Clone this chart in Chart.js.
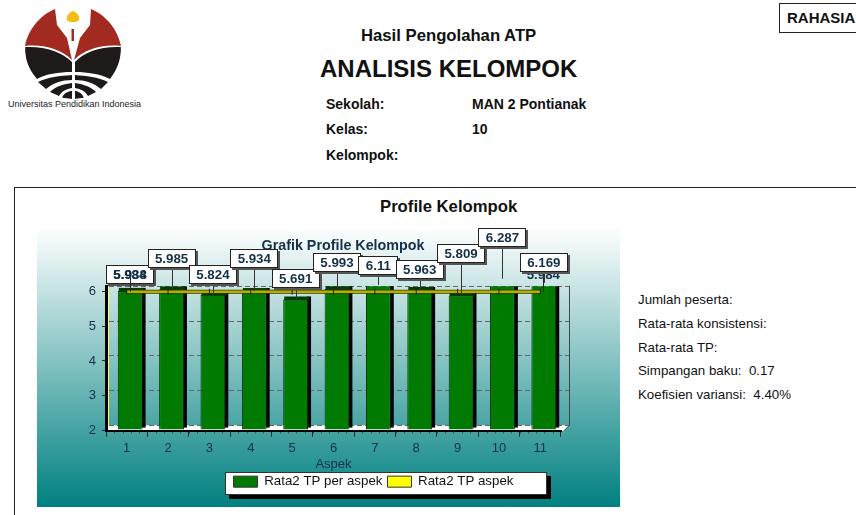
<!DOCTYPE html>
<html><head><meta charset="utf-8">
<script src="https://cdn.jsdelivr.net/npm/chart.js@4/dist/chart.umd.min.js"></script>
<style>
html,body{margin:0;padding:0;background:#fff;overflow:hidden}
body{width:856px;height:515px;position:relative;font-family:"Liberation Sans",Arial,sans-serif;color:#111}
.t{position:absolute;white-space:nowrap;line-height:1}
.b{font-weight:bold}
#frame{position:absolute;left:14px;top:187px;width:860px;height:340px;border:1px solid #222;box-sizing:border-box}
#grad{position:absolute;left:37px;top:227px;width:583px;height:280px;background:linear-gradient(#ffffff 0%,#008080 100%)}
#c{position:absolute;left:0;top:0}
#rah{position:absolute;left:779px;top:3px;width:90px;height:30px;border:1px solid #222;box-sizing:border-box;font:bold 15px "Liberation Sans";padding:5px 0 0 7px}
</style></head><body>
<svg style="position:absolute;left:0;top:0" width="160" height="100" viewBox="0 0 160 100">
<defs><clipPath id="lc"><circle cx="73" cy="51" r="48"/></clipPath></defs>
<path d="M55 9 L57 25 L67 38 L72 60 C62 50 45 44 25 46 C28 30 40 15 55 9Z" fill="#a32a20"/>
<path d="M91 9 L90 25 L80 38 L74 60 C84 50 101 44 121 46 C118 30 106 15 91 9Z" fill="#a32a20"/>
<path d="M73 11 C78 13 80 17 79 20 C77 23 69 23 67 20 C66 17 68 13 73 11Z" fill="#f3bd13"/>
<rect x="71.5" y="29" width="2.5" height="12" fill="#a32a20"/>
<g clip-path="url(#lc)">
<path d="M25 47 C45 46 62 52 72 62 L72 72 C58 72 46 74 37 79 C29 70 25 60 25 47Z" fill="#1d1a19"/>
<path d="M121 47 C101 46 84 52 75 62 L75 72 C88 72 100 74 110 79 C117 70 121 60 121 47Z" fill="#1d1a19"/>
<path d="M38 82 C48 77 60 76 72 75 L72 80 C62 80 53 83 46 89Z M108 82 C98 77 86 76 75 75 L75 80 C85 80 94 83 101 89Z" fill="#1d1a19"/>
<path d="M50 92 C56 86 64 84 72 83 L72 88 C66 89 62 91 59 96Z M96 92 C90 86 82 84 75 83 L75 88 C81 89 85 91 88 96Z" fill="#1d1a19"/>
<path d="M62 98 C64 93 68 91 72 91 L72 99Z M84 98 C82 93 78 91 75 91 L75 99Z" fill="#1d1a19"/>
</g></svg>
<div class="t" style="left:8px;top:100px;font-size:9px;font-family:'Liberation Sans';color:#222">Universitas Pendidikan Indonesia</div>
<div class="t b" style="left:361px;top:28px;font-size:16.7px">Hasil Pengolahan ATP</div>
<div class="t b" style="left:320px;top:57px;font-size:24px">ANALISIS KELOMPOK</div>
<div class="t b" style="left:326px;top:97px;font-size:14px">Sekolah:</div>
<div class="t b" style="left:472px;top:97px;font-size:14px">MAN 2 Pontianak</div>
<div class="t b" style="left:326px;top:122px;font-size:14px">Kelas:</div>
<div class="t b" style="left:472px;top:122px;font-size:14px">10</div>
<div class="t b" style="left:326px;top:148px;font-size:14px">Kelompok:</div>
<div id="rah">RAHASIA</div>
<div id="frame"></div>
<div class="t b" style="left:380px;top:199px;font-size:16.7px">Profile Kelompok</div>
<div id="grad"></div>
<div class="t" style="left:638px;top:293px;font-size:13.3px">Jumlah peserta:</div>
<div class="t" style="left:638px;top:317px;font-size:13.3px">Rata-rata konsistensi:</div>
<div class="t" style="left:638px;top:341px;font-size:13.3px">Rata-rata TP:</div>
<div class="t" style="left:638px;top:364px;font-size:13.3px">Simpangan baku:&nbsp; 0.17</div>
<div class="t" style="left:638px;top:388px;font-size:13.3px">Koefisien variansi:&nbsp; 4.40%</div>
<canvas id="c" width="856" height="515"></canvas>
<script>
const categories = ['1','2','3','4','5','6','7','8','9','10','11'];
const perAspek = [5.938,5.985,5.824,5.934,5.691,5.993,6.11,5.963,5.809,6.287,6.169];
const aspekMean = [5.984,5.984,5.984,5.984,5.984,5.984,5.984,5.984,5.984,5.984,5.984];
const yTicks = [2,3,4,5,6];
const labelLift = [6.6,21,10.5,23,11,17,10,11,32,32,11];

const FONT = '"Liberation Sans", Arial, sans-serif';
const BAR_DX = 3.5, BAR_DY = -2.5, WALL_DX = 3, WALL_DY = -5.5;

const scene = {
  id:'scene',
  afterLayout(chart){
    const lg = chart.legend, tb = chart.titleBlock;
    const dx = 373.5 - (lg.left + lg.right)/2;
    lg.left += dx; lg.right += dx;
    const dy = 470 - lg.top; lg.top += dy; lg.bottom += dy;
    const tx = 343 - (tb.left + tb.right)/2;
    tb.left += tx; tb.right += tx;
  },
  beforeDraw(chart){
    const {ctx, chartArea:a, scales:{x,y}} = chart;
    const b = y.getPixelForValue(2);
    ctx.save();
    // legend panel
    const lg = chart.legend;
    const lw = lg.lineWidths[0], cx = (lg.left+lg.right)/2;
    const l = Math.round(cx-lw/2-6), w = Math.round(lw+37), t = Math.round(lg.top+2), h = Math.round(lg.height-5);
    ctx.fillStyle='#000';ctx.fillRect(l+4,t+4,w,h);
    ctx.fillStyle='#fff';ctx.fillRect(l,t,w,h);
    ctx.strokeStyle='#333';ctx.strokeRect(l+.5,t+.5,w-1,h-1);
    // floor
    ctx.fillStyle = '#fff';
    ctx.beginPath();
    ctx.moveTo(a.left,b);ctx.lineTo(a.right+3,b);ctx.lineTo(a.right+8,b+WALL_DY);ctx.lineTo(a.left+WALL_DX,b+WALL_DY);ctx.closePath();ctx.fill();
    // left wall
    const t6 = y.getPixelForValue(6);
    ctx.fillStyle = '#ffff66';
    ctx.beginPath();
    ctx.moveTo(a.left,b);ctx.lineTo(a.left+WALL_DX,b+WALL_DY);ctx.lineTo(a.left+WALL_DX,t6+WALL_DY);ctx.lineTo(a.left,t6);ctx.closePath();ctx.fill();
    // back wall grid
    ctx.strokeStyle = '#666'; ctx.lineWidth = 1; ctx.setLineDash([5,3]);
    yTicks.forEach(v=>{
      const p = Math.round(y.getPixelForValue(v)+WALL_DY)+.5;
      ctx.beginPath();ctx.moveTo(a.left+WALL_DX,p);ctx.lineTo(a.right+8,p);ctx.stroke();
    });
    ctx.setLineDash([]);
    ctx.strokeStyle = '#444';
    ctx.beginPath();
    ctx.moveTo(a.right+8.5,t6+WALL_DY);ctx.lineTo(a.right+8.5,b+WALL_DY);ctx.lineTo(a.right+3,b);
    ctx.stroke();
    // minor x ticks
    ctx.strokeStyle = '#554';
    const step = x.getPixelForValue(1)-x.getPixelForValue(0);
    for(let i=0;i<categories.length*5;i++){
      const p = Math.round(a.left+step*i/5)+.5;
      ctx.beginPath();ctx.moveTo(p,b);ctx.lineTo(p,b+3);ctx.stroke();
    }
    ctx.restore();
  },
  beforeDatasetDraw(chart,args){
    const {ctx, chartArea:a} = chart;
    ctx.save();
    if(args.index===0){
      const els = args.meta.data;
      ctx.save();
      ctx.beginPath();ctx.rect(a.left,a.top,a.width+10,a.height);ctx.clip();
      els.forEach(e=>{
        const w = e.width, l = e.x-w/2+BAR_DX, r = l+w;
        ctx.fillStyle = '#050505';
        ctx.fillRect(r-1,e.y+BAR_DY-3,4,e.base-e.y+1);
        ctx.fillStyle = '#033d03';
        ctx.fillRect(l+1,e.y+BAR_DY-3,w,4);
      });
      ctx.restore();
      ctx.translate(BAR_DX,BAR_DY);
    } else {
      ctx.strokeStyle = '#3a3a00'; ctx.lineWidth = 4;
      const pts = args.meta.data;
      ctx.beginPath();ctx.moveTo(pts[0].x,pts[0].y);
      pts.forEach(p=>ctx.lineTo(p.x,p.y));ctx.stroke();
    }
  },
  afterDatasetDraw(chart){ chart.ctx.restore(); },
  afterDraw(chart){
    const {ctx, scales:{x,y}} = chart;
    ctx.save();
    ctx.font = 'bold 13.3px '+FONT;
    ctx.textAlign='center';ctx.textBaseline='middle';
    const plain = i=>{
      const px = x.getPixelForValue(i)+3;
      const py = y.getPixelForValue(aspekMean[i]);
      ctx.strokeStyle='#222';ctx.lineWidth=1;
      ctx.beginPath();ctx.moveTo(Math.round(px)+.5,py);ctx.lineTo(Math.round(px)+.5,py-14);ctx.stroke();
      ctx.fillStyle='#14304a';
      ctx.fillText(aspekMean[i].toString(),px,py-16);
    };
    plain(categories.length-1);
    perAspek.forEach((v,i)=>{
      const px = x.getPixelForValue(i)+BAR_DX;
      const py = y.getPixelForValue(v)+BAR_DY;
      const bottom = Math.round(py-labelLift[i]);
      const txt = String(v);
      const w = Math.round(ctx.measureText(txt).width)+15, h = 19;
      const lx = Math.round(px-w/2), ly = bottom-h;
      ctx.strokeStyle='#333';ctx.lineWidth=1;
      ctx.beginPath();ctx.moveTo(Math.round(px)+.5,bottom);ctx.lineTo(Math.round(px)+.5,py);ctx.stroke();
      ctx.fillStyle='#555';ctx.fillRect(lx+2,ly+2,w,h);
      ctx.fillStyle='#fff';ctx.fillRect(lx,ly,w,h);
      ctx.strokeStyle='#222';ctx.strokeRect(lx+.5,ly+.5,w-1,h-1);
      ctx.fillStyle='#14304a';
      ctx.fillText(txt,px,ly+h/2+.5);
    });
    plain(0);
    ctx.restore();
  }
};
new Chart(document.getElementById('c'),{
  data:{labels:categories,datasets:[
    {type:'bar',label:'Rata2 TP per aspek',data:perAspek,base:1.96,backgroundColor:'#007a00',borderColor:'#063006',borderWidth:1,
     barPercentage:.6,categoryPercentage:1,order:2,clip:{left:10,right:10,top:-2.5,bottom:10}},
    {type:'line',label:'Rata2 TP aspek',data:aspekMean,backgroundColor:'#ffff00',borderColor:'#b0b000',borderWidth:2.5,
     pointStyle:'line',pointRotation:90,pointRadius:3,pointBorderColor:'#222',pointBorderWidth:1,tension:0,clip:false,order:1}
  ]},
  options:{
    responsive:false,animation:false,
    layout:{padding:{left:80,right:295,top:237,bottom:14}},
    plugins:{
      title:{display:true,text:'Grafik Profile Kelompok',color:'#14304a',font:{family:FONT,size:14.3,weight:'bold'},padding:{top:0,bottom:32}},
      legend:{position:'bottom',
        labels:{boxWidth:24,boxHeight:11,color:'#111',font:{family:FONT,size:13.3},padding:5,
          generateLabels(c){return Chart.defaults.plugins.legend.labels.generateLabels(c).map(l=>{
            l.fillStyle=l.datasetIndex?'#ffff00':'#007a00';l.strokeStyle='#333';l.lineWidth=1;return l;}).sort((p,q)=>p.datasetIndex-q.datasetIndex);}}},
      tooltip:{enabled:false}
    },
    scales:{
      x:{type:'category',offset:true,
        grid:{drawOnChartArea:false,drawTicks:true,tickLength:6,color:'#222'},
        border:{color:'#000',width:2},
        ticks:{color:'#14304a',font:{family:FONT,size:13,lineHeight:1},padding:5,maxRotation:0},
        title:{display:true,text:'Aspek',color:'#14304a',font:{family:FONT,size:13,lineHeight:1},padding:{top:-2,bottom:2}}},
      y:{type:'linear',min:2,max:6.145,
        afterBuildTicks(s){s.ticks=yTicks.map(v=>({value:v}));},
        afterFit(s){s.width=26;},
        grid:{drawOnChartArea:false,tickLength:4,color:'#222'},
        border:{color:'#000',width:3},
        ticks:{color:'#14304a',font:{family:FONT,size:13},padding:6}}
    }
  },
  plugins:[scene]
});
</script>
</body></html>
